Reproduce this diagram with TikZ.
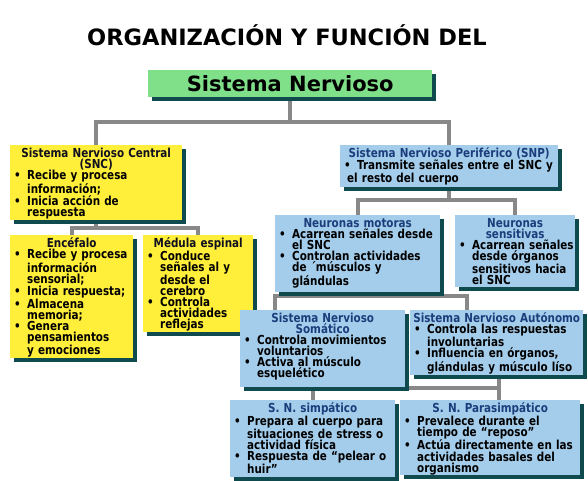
\documentclass[tikz,border=0pt]{standalone}
\usepackage{fontspec}
\setmainfont{DejaVu Sans}
\newfontfamily\condf{DejaVu Sans Condensed}[FakeStretch=0.93]
\usetikzlibrary{shadows,backgrounds}
\setlength{\lineskiplimit}{-20pt}
\definecolor{yellowc}{HTML}{FFEE3A}
\definecolor{bluec}{HTML}{A4CDEB}
\definecolor{greenc}{HTML}{80E08A}
\definecolor{shadowc}{HTML}{0E4A4E}
\definecolor{navyc}{HTML}{1C3D7C}
\definecolor{hdyc}{HTML}{101020}
\definecolor{connc}{HTML}{888888}
\newlength\bind \setlength\bind{14pt}
\newcommand\myhy[1]{\par\noindent\makebox[\linewidth][c]{\color{hdyc}#1}}
\newcommand\myhb[1]{\par\noindent\makebox[\linewidth][c]{\color{navyc}#1}}
\newcommand\myb[1]{\par\noindent\makebox[\bind][l]{\hspace{1pt}•}\mbox{#1}}
\newcommand\myc[1]{\par\noindent\hspace*{\bind}\mbox{#1}}
\tikzset{
  box/.style={rectangle, draw=none, anchor=north west, inner sep=0pt,
    drop shadow={shadow xshift=4pt, shadow yshift=-4pt, fill=shadowc, opacity=1}},
  ybox/.style={box, fill=yellowc},
  bbox/.style={box, fill=bluec},
  txt/.style={anchor=north, inner sep=0pt, align=left, yshift=-1pt,
    font=\condf\bfseries\fontsize{12.4}{11.1}\selectfont, text=black},
  conn/.style={draw=connc, line width=4pt}
}
\begin{document}
\begin{tikzpicture}[x=1pt,y=-1pt]
\useasboundingbox (0,0) rectangle (588,480);
\node[font=\bfseries\fontsize{22.5}{26}\selectfont] (title) at (287,35) {ORGANIZACIÓN Y FUNCIÓN DEL};
\node[box, fill=greenc, minimum width=284pt, minimum height=27pt, font=\bfseries\fontsize{21}{24}\selectfont] (sn) at (148,70) {Sistema Nervioso};
% boxes
\node[ybox, minimum width=172pt, minimum height=75pt] (snc) at (10,145) {};
\node[ybox, minimum width=123pt, minimum height=123pt] (enc) at (10,235) {};
\node[ybox, minimum width=110pt, minimum height=97pt] (med) at (143,235) {};
\node[bbox, minimum width=218pt, minimum height=42pt] (snp) at (340,145) {};
\node[bbox, minimum width=165pt, minimum height=77pt] (mot) at (275,215) {};
\node[bbox, minimum width=120pt, minimum height=72pt] (sen) at (455,215) {};
\node[bbox, minimum width=165pt, minimum height=77pt] (som) at (240,310) {};
\node[bbox, minimum width=173pt, minimum height=65pt] (aut) at (410,310) {};
\node[bbox, minimum width=165pt, minimum height=77pt] (simp) at (230,400) {};
\node[bbox, minimum width=180pt, minimum height=75pt] (para) at (400,400) {};
% texts
\node[txt, text width=166pt] (snct) at (snc.north) {\myhy{Sistema Nervioso Central}\myhy{(SNC)}\myb{Recibe y procesa}\myc{información;}\myb{Inicia acción de}\myc{respuesta}};
\node[txt, text width=117pt] (enct) at (enc.north) {\myhy{Encéfalo}\myb{Recibe y procesa}\myc{información}\myc{sensorial;}\myb{Inicia respuesta;}\myb{Almacena}\myc{memoria;}\myb{Genera}\myc{pensamientos}\myc{y emociones}};
\node[txt, text width=104pt] (medt) at (med.north) {\myhy{Médula espinal}\myb{Conduce}\myc{señales al y}\myc{desde el}\myc{cerebro}\myb{Controla}\myc{actividades}\myc{reflejas}};
\node[txt, text width=212pt] (snpt) at (snp.north) {\myhb{Sistema Nervioso Periférico (SNP)}\myb{Transmite señales entre el SNC y}\par\noindent\hspace*{4pt}\mbox{el resto del cuerpo}};
\node[txt, text width=159pt] (mott) at (mot.north) {\myhb{Neuronas motoras}\myb{Acarrean señales desde}\myc{el SNC}\myb{Controlan actividades}\myc{de ´músculos y}\myc{glándulas}};
\node[txt, text width=114pt] (sent) at (sen.north) {\myhb{Neuronas}\myhb{sensitivas}\myb{Acarrean señales}\myc{desde órganos}\myc{sensitivos hacia}\myc{el SNC}};
\node[txt, text width=159pt] (somt) at (som.north) {\myhb{Sistema Nervioso}\myhb{Somático}\myb{Controla movimientos}\myc{voluntarios}\myb{Activa al músculo}\myc{esquelético}};
\node[txt, text width=167pt] (autt) at (aut.north) {\myhb{Sistema Nervioso Autónomo}\myb{Controla las respuestas}\myc{involuntarias}\myb{Influencia en órganos,}\myc{glándulas y músculo líso}};
\node[txt, text width=159pt] (simpt) at (simp.north) {\myhb{S. N. simpático}\myb{Prepara al cuerpo para}\myc{situaciones de stress o}\myc{actividad física}\myb{Respuesta de “pelear o}\myc{huir”}};
\node[txt, text width=174pt] (parat) at (para.north) {\myhb{S. N. Parasimpático}\myb{Prevalece durante el}\myc{tiempo de “reposo”}\myb{Actúa directamente en las}\myc{actividades basales del}\myc{organismo}};
% connectors
\begin{scope}[on background layer]
\draw[conn] (sn.south) -- (sn.south |- 0,122) coordinate (j1);
\draw[conn] (snc.north) |- (j1) -| (snp.north);
\draw[conn] (snc.south) -- (snc.south |- 0,228) coordinate (j2);
\draw[conn] (enc.north) |- (j2) -| (med.north);
\draw[conn] (snp.south) -- (snp.south |- 0,200) coordinate (j3);
\draw[conn] (mot.north) |- (j3) -| (sen.north);
\draw[conn] ([xshift=6pt]mot.south) -- ([xshift=6pt]mot.south |- 0,296) coordinate (j4);
\draw[conn] ([xshift=35pt]som.north west) |- (j4) -| ([xshift=57pt]aut.north west);
\draw[conn] ([xshift=2pt]aut.south) -- ([xshift=2pt]aut.south |- 0,388) coordinate (j5) -- ([xshift=2pt]aut.south |- para.north);
\draw[conn] (simp.north) |- (j5);
\end{scope}
\end{tikzpicture}
\end{document}
